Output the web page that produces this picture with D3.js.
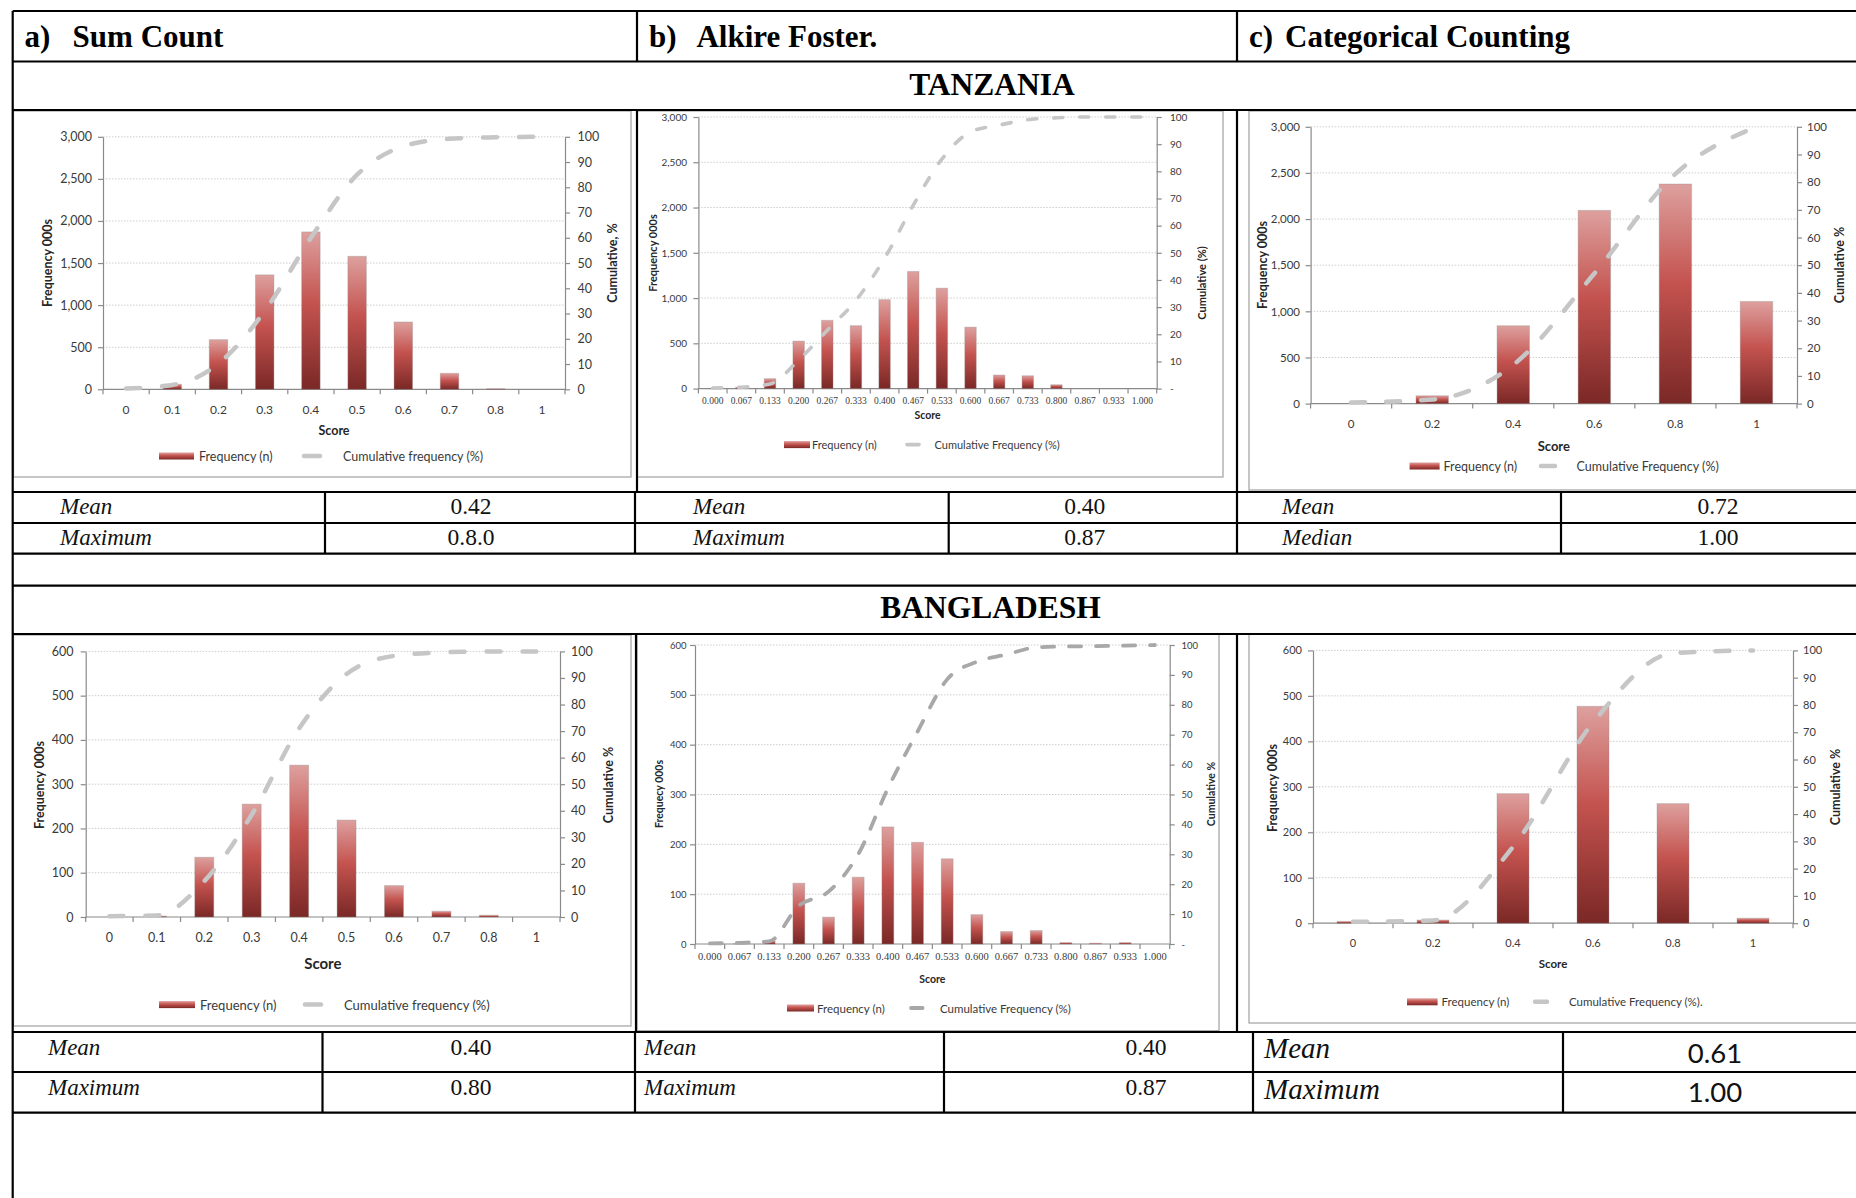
<!DOCTYPE html>
<html>
<head>
<meta charset="utf-8">
<script src="https://cdn.jsdelivr.net/npm/d3@7"></script>
<style>
  html, body { margin: 0; padding: 0; background: #fff; }
  svg { display: block; }
</style>
</head>
<body>
<svg id="fig" width="1856" height="1198"></svg>
<script>
// ---------------- data ----------------
const sumCountScores   = ["0", "0.1", "0.2", "0.3", "0.4", "0.5", "0.6", "0.7", "0.8", "1"];
const alkireScores     = ["0.000", "0.067", "0.133", "0.200", "0.267", "0.333", "0.400", "0.467",
                          "0.533", "0.600", "0.667", "0.733", "0.800", "0.867", "0.933", "1.000"];
const categoricalScores = ["0", "0.2", "0.4", "0.6", "0.8", "1"];

// Tanzania (frequency in thousands, cumulative in %)
const tzSumFreq = [0, 60, 590, 1360, 1870, 1580, 800, 190, 8, 0];
const tzSumCum  = [0.3, 1.7, 10.2, 31, 60, 85, 96.2, 99.2, 99.8, 100];
const tzAfFreq  = [2, 15, 110, 525, 754, 695, 983, 1294, 1109, 679, 150, 142, 43, 0, 0, 0];
const tzAfCum   = [0.2, 0.5, 1.7, 10.5, 21.5, 32.5, 48, 67.5, 84.5, 94.5, 97, 99, 99.7, 100, 100, 100];
const tzCatFreq = [0, 85, 844, 2094, 2380, 1107];
const tzCatCum  = [0.4, 1.5, 14, 47, 83, 100];

// Bangladesh
const bdSumFreq = [0, 2, 135, 255, 343, 219, 71, 13, 4, 0];
const bdSumCum  = [0.3, 0.6, 13.5, 38.5, 71, 91.5, 98.3, 99.6, 100, 100];
const bdAfFreq  = [0, 1, 6, 122, 54, 134, 235, 204, 171, 59, 25, 27, 3, 1.5, 3, 0];
const bdAfCum   = [0.2, 0.4, 0.9, 12.8, 17.5, 30, 52, 71, 88.5, 94.4, 96.8, 99.2, 99.5, 99.6, 99.8, 100];
const bdCatFreq = [4, 7, 285, 477, 263, 11];
const bdCatCum  = [0.5, 1, 28, 73.5, 99, 100];

// axis tick values
const tzFreqTicks = [0, 500, 1000, 1500, 2000, 2500, 3000];
const bdFreqTicks = [0, 100, 200, 300, 400, 500, 600];
const cumTicks    = [0, 10, 20, 30, 40, 50, 60, 70, 80, 90, 100];

// headings
const columnHeads = [["a)", "Sum Count"], ["b)", "Alkire Foster."], ["c)", "Categorical Counting"]];
const countryNames = ["TANZANIA", "BANGLADESH"];

// summary statistics
const tzSumStats = [["Mean", "0.42"], ["Maximum", "0.8.0"]];
const tzAfStats  = [["Mean", "0.40"], ["Maximum", "0.87"]];
const tzCatStats = [["Mean", "0.72"], ["Median", "1.00"]];
const bdSumStats = [["Mean", "0.40"], ["Maximum", "0.80"]];
const bdAfStats  = [["Mean", "0.40"], ["Maximum", "0.87"]];
const bdCatStats = [["Mean", "0.61"], ["Maximum", "1.00"]];

// ---------------- styling / layout ----------------
const SANS  = "Lato, 'Open Sans', 'Noto Sans', sans-serif";
const SERIF = "'Liberation Serif', 'Times New Roman', serif";
const AXIS_GREY = "#8a8a8a";
const TEXT_GREY = "#3a3a3a";

const svg = d3.select("#fig");
const defs = svg.append("defs");
const grad = defs.append("linearGradient").attr("id", "barFill")
  .attr("x1", 0).attr("y1", 0).attr("x2", 0).attr("y2", 1);
grad.selectAll("stop")
  .data([[0, "#dda09e"], [0.45, "#c4534f"], [1, "#7a2826"]])
  .join("stop")
  .attr("offset", d => d[0])
  .attr("stop-color", d => d[1]);

const panels = [
  { cats: sumCountScores, freq: tzSumFreq, cum: tzSumCum, freqTicks: tzFreqTicks,
    box: [13.5, 111, 631, 477], plot: [103, 136.8, 565, 389.3],
    leftLabelRight: 92, rightLabelLeft: 577.5, xLabelY: 409, scoreY: 430,
    leftTitleX: 47, rightTitleX: 612, leftTitleY: 263, rightTitleY: 263,
    leftTitle: "Frequency 000s", rightTitle: "Cumulative, %",
    legendY: 456, legend: [159, 194, 199, 302, 322, 343],
    legendText: ["Frequency (n)", "Cumulative frequency (%)"],
    tickSize: 12.5, xTickSize: 12, xTickFont: SANS, titleSize: 12.5, scoreSize: 12.5, legendSize: 12.5,
    zeroDash: false, line: { w: 4.5, dash: "14 22", color: "#c6c6c6" } },
  { cats: alkireScores, freq: tzAfFreq, cum: tzAfCum, freqTicks: tzFreqTicks,
    box: [637, 111, 1223, 477], plot: [698.4, 117, 1156.7, 388.6],
    leftLabelRight: 687, rightLabelLeft: 1170, xLabelY: 400.7, scoreY: 415,
    leftTitleX: 652, rightTitleX: 1201, leftTitleY: 253, rightTitleY: 283,
    leftTitle: "Frequency 000s", rightTitle: "Cumulative (%)",
    legendY: 444.6, legend: [784, 810, 812, 905, 921, 934.5],
    legendText: ["Frequency (n)", "Cumulative Frequency (%)"],
    tickSize: 10, xTickSize: 9.5, xTickFont: SERIF, titleSize: 11, scoreSize: 10.5, legendSize: 11,
    zeroDash: true, line: { w: 3.6, dash: "9 17", color: "#c6c6c6" } },
  { cats: categoricalScores, freq: tzCatFreq, cum: tzCatCum, freqTicks: tzFreqTicks,
    box: [1249, 111, 1870, 490], plot: [1310.6, 126.8, 1797, 403.6],
    leftLabelRight: 1300, rightLabelLeft: 1807, xLabelY: 423, scoreY: 446,
    leftTitleX: 1262, rightTitleX: 1839, leftTitleY: 265, rightTitleY: 265,
    leftTitle: "Frequency 000s", rightTitle: "Cumulative %",
    legendY: 466, legend: [1409.6, 1439.6, 1443.6, 1539, 1557, 1576.5],
    legendText: ["Frequency (n)", "Cumulative Frequency (%)"],
    tickSize: 11.5, xTickSize: 11.5, xTickFont: SANS, titleSize: 12.5, scoreSize: 13, legendSize: 12.5,
    zeroDash: false, line: { w: 4.5, dash: "14 21", color: "#c6c6c6" } },
  { cats: sumCountScores, freq: bdSumFreq, cum: bdSumCum, freqTicks: bdFreqTicks,
    box: [13.5, 635, 631, 1026], plot: [85.7, 651.4, 560, 917],
    leftLabelRight: 73.5, rightLabelLeft: 571, xLabelY: 937.5, scoreY: 962.5,
    leftTitleX: 39.6, rightTitleX: 608, leftTitleY: 785, rightTitleY: 785,
    leftTitle: "Frequency 000s", rightTitle: "Cumulative %",
    legendY: 1004.6, legend: [159, 195, 200, 303, 323, 344],
    legendText: ["Frequency (n)", "Cumulative frequency (%)"],
    tickSize: 12.5, xTickSize: 12.5, xTickFont: SANS, titleSize: 12.5, scoreSize: 15, legendSize: 13,
    zeroDash: false, line: { w: 4.5, dash: "14 22", color: "#c6c6c6" } },
  { cats: alkireScores, freq: bdAfFreq, cum: bdAfCum, freqTicks: bdFreqTicks,
    box: [637, 634, 1219, 1030.7], plot: [695, 645, 1169.7, 944],
    leftLabelRight: 686.5, rightLabelLeft: 1181.6, xLabelY: 956.4, scoreY: 978.6,
    leftTitleX: 658.5, rightTitleX: 1210.5, leftTitleY: 794, rightTitleY: 794,
    leftTitle: "Frequecy 000s", rightTitle: "Cumulative %",
    legendY: 1008, legend: [787, 814, 817, 909, 924.6, 940],
    legendText: ["Frequency (n)", "Cumulative Frequency (%)"],
    tickSize: 9.5, xTickSize: 10.5, xTickFont: SERIF, titleSize: 10.5, scoreSize: 10.5, legendSize: 11.5,
    zeroDash: true, line: { w: 3.8, dash: "12 15", color: "#a8a8a8" } },
  { cats: categoricalScores, freq: bdCatFreq, cum: bdCatCum, freqTicks: bdFreqTicks,
    box: [1249, 634, 1870, 1023], plot: [1313, 650.4, 1793, 923.2],
    leftLabelRight: 1302, rightLabelLeft: 1803, xLabelY: 942, scoreY: 963.6,
    leftTitleX: 1272, rightTitleX: 1835, leftTitleY: 788, rightTitleY: 787,
    leftTitle: "Frequency 000s", rightTitle: "Cumulative %",
    legendY: 1001.8, legend: [1407, 1437.6, 1441.6, 1533, 1549, 1569],
    legendText: ["Frequency (n)", "Cumulative Frequency (%)."],
    tickSize: 11, xTickSize: 11, xTickFont: SANS, titleSize: 12.5, scoreSize: 11.5, legendSize: 11.5,
    zeroDash: false, line: { w: 4.5, dash: "14 21", color: "#c6c6c6" } }
];

function styleAxis(g, size) {
  g.attr("font-family", SANS).attr("font-size", size);
  g.select(".domain").attr("stroke", AXIS_GREY).attr("stroke-width", 1.2);
  g.selectAll(".tick line").attr("stroke", AXIS_GREY).attr("stroke-width", 1.2);
  g.selectAll(".tick text").attr("fill", TEXT_GREY);
}

function drawPanel(p) {
  const g = svg.append("g");
  const [bx0, by0, bx1, by1] = p.box;
  g.append("rect")
    .attr("x", bx0).attr("y", by0).attr("width", bx1 - bx0).attr("height", by1 - by0)
    .attr("fill", "#fff").attr("stroke", "#a8a8a8").attr("stroke-width", 1.3);

  const [px0, py0, px1, py1] = p.plot;
  const x = d3.scaleBand().domain(p.cats).range([px0, px1]).paddingInner(0.6).paddingOuter(0.3);
  const y = d3.scaleLinear().domain([0, d3.max(p.freqTicks)]).range([py1, py0]);
  const yc = d3.scaleLinear().domain([0, 100]).range([py1, py0]);
  const bw = x.bandwidth();
  const gapHalf = (x.step() - bw) / 2;

  // horizontal gridlines
  g.append("g").selectAll("line")
    .data(p.freqTicks.filter(t => t > 0))
    .join("line")
    .attr("x1", px0).attr("x2", px1)
    .attr("y1", d => y(d)).attr("y2", d => y(d))
    .attr("stroke", "#cdcdcd").attr("stroke-width", 1).attr("stroke-dasharray", "1.5 1.5");

  // left (frequency) axis
  const leftAxis = g.append("g").attr("transform", `translate(${px0},0)`)
    .call(d3.axisLeft(y).tickValues(p.freqTicks).tickFormat(d3.format(","))
      .tickSizeInner(5).tickSizeOuter(0).tickPadding(px0 - p.leftLabelRight - 5));
  styleAxis(leftAxis, p.tickSize);

  // right (cumulative) axis
  const rightAxis = g.append("g").attr("transform", `translate(${px1},0)`)
    .call(d3.axisRight(yc).tickValues(cumTicks)
      .tickFormat(d => (d === 0 && p.zeroDash) ? "-" : String(d))
      .tickSizeInner(5).tickSizeOuter(0).tickPadding(p.rightLabelLeft - px1 - 5));
  styleAxis(rightAxis, p.tickSize);

  // category axis: line, boundary ticks, labels
  g.append("line").attr("x1", px0).attr("x2", px1).attr("y1", py1).attr("y2", py1)
    .attr("stroke", AXIS_GREY).attr("stroke-width", 1.2);
  const bounds = p.cats.map(c => x(c) - gapHalf).concat([x(p.cats[p.cats.length - 1]) + bw + gapHalf]);
  g.append("g").selectAll("line").data(bounds).join("line")
    .attr("x1", d => d).attr("x2", d => d).attr("y1", py1).attr("y2", py1 + 5)
    .attr("stroke", AXIS_GREY).attr("stroke-width", 1.2);
  g.append("g").selectAll("text").data(p.cats).join("text")
    .attr("x", d => x(d) + bw / 2).attr("y", p.xLabelY)
    .attr("text-anchor", "middle").attr("dominant-baseline", "central")
    .attr("font-family", p.xTickFont).attr("font-size", p.xTickSize).attr("fill", TEXT_GREY)
    .text(d => d);

  // frequency bars
  g.append("g").selectAll("rect")
    .data(p.cats.map((c, i) => ({ c, v: p.freq[i] })))
    .join("rect")
    .attr("x", d => x(d.c)).attr("width", bw)
    .attr("y", d => y(d.v)).attr("height", d => py1 - y(d.v))
    .attr("fill", "url(#barFill)")
    .attr("stroke", "rgba(150,140,140,0.35)").attr("stroke-width", 1);

  // cumulative frequency line
  const line = d3.line()
    .x(d => x(d.c) + bw / 2)
    .y(d => yc(d.v))
    .curve(d3.curveMonotoneX);
  g.append("path")
    .datum(p.cats.map((c, i) => ({ c, v: p.cum[i] })))
    .attr("d", line)
    .attr("fill", "none").attr("stroke", p.line.color).attr("stroke-width", p.line.w)
    .attr("stroke-linecap", "round").attr("stroke-dasharray", p.line.dash);

  // axis titles
  g.append("text")
    .attr("transform", `translate(${p.leftTitleX},${p.leftTitleY}) rotate(-90)`)
    .attr("text-anchor", "middle").attr("dominant-baseline", "central")
    .attr("font-family", SANS).attr("font-weight", 700).attr("font-size", p.titleSize).attr("fill", "#262626")
    .text(p.leftTitle);
  g.append("text")
    .attr("transform", `translate(${p.rightTitleX},${p.rightTitleY}) rotate(-90)`)
    .attr("text-anchor", "middle").attr("dominant-baseline", "central")
    .attr("font-family", SANS).attr("font-weight", 700).attr("font-size", p.titleSize).attr("fill", "#262626")
    .text(p.rightTitle);
  g.append("text")
    .attr("x", (px0 + px1) / 2).attr("y", p.scoreY)
    .attr("text-anchor", "middle").attr("dominant-baseline", "central")
    .attr("font-family", SANS).attr("font-weight", 700).attr("font-size", p.scoreSize).attr("fill", "#262626")
    .text("Score");

  // legend
  const [s0, s1, t1, d0, d1, t2] = p.legend;
  const ly = p.legendY;
  g.append("rect").attr("x", s0).attr("y", ly - 3.5).attr("width", s1 - s0).attr("height", 7)
    .attr("fill", "url(#barFill)");
  g.append("text").attr("x", t1).attr("y", ly).attr("dominant-baseline", "central")
    .attr("font-family", SANS).attr("font-size", p.legendSize).attr("fill", TEXT_GREY)
    .text(p.legendText[0]);
  g.append("line").attr("x1", d0 + 2).attr("x2", d1 - 2).attr("y1", ly).attr("y2", ly)
    .attr("stroke", p.line.color).attr("stroke-width", p.line.w).attr("stroke-linecap", "round");
  g.append("text").attr("x", t2).attr("y", ly).attr("dominant-baseline", "central")
    .attr("font-family", SANS).attr("font-size", p.legendSize).attr("fill", TEXT_GREY)
    .text(p.legendText[1]);
}

panels.forEach(drawPanel);

// ---------------- table frame ----------------
const frame = svg.append("g").attr("stroke", "#000").attr("stroke-width", 2.2);
const ruleYs = [11, 61.5, 110, 492, 523, 553.7, 585.7, 634, 1032, 1072, 1112.7];
frame.selectAll("line.h").data(ruleYs).join("line").attr("class", "h")
  .attr("x1", 12.7).attr("x2", 1856).attr("y1", d => d).attr("y2", d => d);
const ruleXs = [
  [12.7, 11, 1198],
  [637, 11, 61.5], [1237, 11, 61.5],
  [637, 110, 492], [1237, 110, 492],
  [325, 492, 553.7], [635, 492, 553.7], [948.7, 492, 553.7], [1237, 492, 553.7], [1561, 492, 553.7],
  [636, 634, 1032], [1237, 634, 1032],
  [322.5, 1032, 1112.7], [635, 1032, 1112.7], [944, 1032, 1112.7], [1253, 1032, 1112.7], [1563, 1032, 1112.7]
];
frame.selectAll("line.v").data(ruleXs).join("line").attr("class", "v")
  .attr("x1", d => d[0]).attr("x2", d => d[0]).attr("y1", d => d[1]).attr("y2", d => d[2]);

// column headings
const headPos = [[24.5, 72.6], [649, 696.4], [1249, 1285]];
columnHeads.forEach((h, i) => {
  svg.append("text").attr("x", headPos[i][0]).attr("y", 47)
    .attr("font-family", SERIF).attr("font-weight", 700).attr("font-size", 31).text(h[0]);
  svg.append("text").attr("x", headPos[i][1]).attr("y", 47)
    .attr("font-family", SERIF).attr("font-weight", 700).attr("font-size", 31).text(h[1]);
});

// country banners
[[992, 94.6], [990.6, 618]].forEach((pos, i) => {
  svg.append("text").attr("x", pos[0]).attr("y", pos[1]).attr("text-anchor", "middle")
    .attr("font-family", SERIF).attr("font-weight", 700).attr("font-size", 31.5)
    .text(countryNames[i]);
});

// summary tables
const tables = [
  { stats: tzSumStats, labelX: 60, valueX: 471, labelY: [514.3, 545.4], valueY: [514.3, 545.4] },
  { stats: tzAfStats, labelX: 693, valueX: 1084.7, labelY: [514.3, 545.4], valueY: [514.3, 545.4] },
  { stats: tzCatStats, labelX: 1282, valueX: 1718, labelY: [514.3, 545.4], valueY: [514.3, 545.4] },
  { stats: bdSumStats, labelX: 48, valueX: 471, labelY: [1054.6, 1094.6], valueY: [1054.6, 1094.6] },
  { stats: bdAfStats, labelX: 644, valueX: 1146, labelY: [1054.6, 1094.6], valueY: [1054.6, 1094.6] },
  { stats: bdCatStats, labelX: 1264, valueX: 1715, labelY: [1058.2, 1099.3], valueY: [1062.9, 1102],
    labelSize: 29, valueSize: 27.5, valueFont: SANS }
];
tables.forEach(t => {
  t.stats.forEach((row, i) => {
    svg.append("text").attr("x", t.labelX).attr("y", t.labelY[i])
      .attr("font-family", SERIF).attr("font-style", "italic")
      .attr("font-size", t.labelSize || 23).attr("fill", "#111")
      .text(row[0]);
    svg.append("text").attr("x", t.valueX).attr("y", t.valueY[i]).attr("text-anchor", "middle")
      .attr("font-family", t.valueFont || SERIF)
      .attr("font-size", t.valueSize || 23.5).attr("fill", "#111")
      .text(row[1]);
  });
});
</script>
</body>
</html>
